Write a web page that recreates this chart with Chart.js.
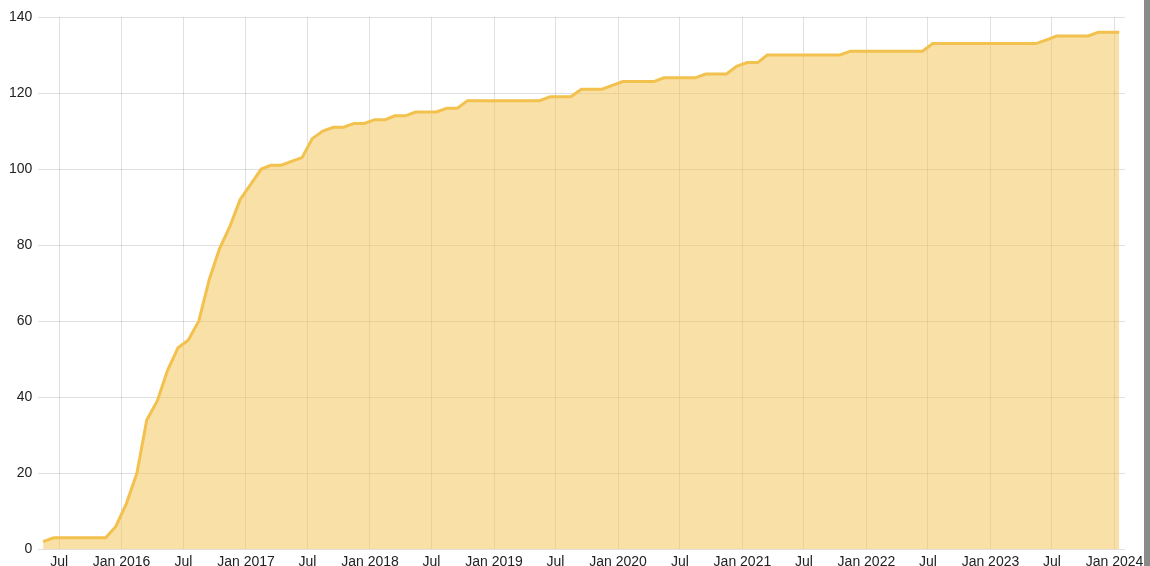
<!DOCTYPE html>
<html>
<head>
<meta charset="utf-8">
<script src="https://cdn.jsdelivr.net/npm/chart.js@4/dist/chart.umd.min.js"></script>
<style>
  html, body { margin:0; padding:0; overflow:hidden; background:#fff; width:1150px; height:566px; }
  #edge { position:absolute; left:1144px; top:0; width:6px; height:566px; background:#8a8a8a; }
</style>
</head>
<body>
<canvas id="c" width="1150" height="576"></canvas>
<div id="edge"></div>
<script>
// Monthly categories (one point per month, May 2015 – Jan 2024)
const firstMonth = '2015-05';
const lastMonth = '2024-01';

// Cumulative values per month
const values2015 = [2, 3, 3, 3, 3, 3, 3, 6];                                   // May–Dec
const values2016 = [12, 20, 34, 39, 47, 53, 55, 60, 71, 79, 85, 92];
const values2017 = [96, 100, 101, 101, 102, 103, 108, 110, 111, 111, 112, 112];
const values2018 = [113, 113, 114, 114, 115, 115, 115, 116, 116, 118, 118, 118];
const values2019 = [118, 118, 118, 118, 118, 119, 119, 119, 121, 121, 121, 122];
const values2020 = [123, 123, 123, 123, 124, 124, 124, 124, 125, 125, 125, 127];
const values2021 = [128, 128, 130, 130, 130, 130, 130, 130, 130, 130, 131, 131];
const values2022 = [131, 131, 131, 131, 131, 131, 133, 133, 133, 133, 133, 133];
const values2023 = [133, 133, 133, 133, 133, 134, 135, 135, 135, 135, 136, 136];
const values2024 = [136];                                                       // Jan

// X-axis tick positions and labels
const tickMonths = ['2015-07','2016-01','2016-07','2017-01','2017-07','2018-01','2018-07',
  '2019-01','2019-07','2020-01','2020-07','2021-01','2021-07','2022-01','2022-07',
  '2023-01','2023-07','2024-01'];
const tickLabels = ['Jul','Jan 2016','Jul','Jan 2017','Jul','Jan 2018','Jul',
  'Jan 2019','Jul','Jan 2020','Jul','Jan 2021','Jul','Jan 2022','Jul',
  'Jan 2023','Jul','Jan 2024'];
const yTicks = [0, 20, 40, 60, 80, 100, 120, 140];

// axis range (month starts)
const axisStart = '2015-05';
const axisEnd = '2024-02';

// ---- build ----
const values = [].concat(values2015, values2016, values2017, values2018, values2019,
  values2020, values2021, values2022, values2023, values2024);

function monthTime(ym, day) {
  const [y, m] = ym.split('-').map(Number);
  return Date.UTC(y, m - 1, day);
}
const months = [];
{
  let [y, m] = firstMonth.split('-').map(Number);
  const [ly, lm] = lastMonth.split('-').map(Number);
  while (y < ly || (y === ly && m <= lm)) {
    months.push(y + '-' + String(m).padStart(2, '0'));
    m++; if (m > 12) { m = 1; y++; }
  }
}
const points = months.map((ym, i) => ({ x: monthTime(ym, 15), y: values[i] }));
const tickValues = tickMonths.map(ym => monthTime(ym, 1));

Chart.defaults.font.family = "'Liberation Sans', Arial, Helvetica, sans-serif";
Chart.defaults.font.size = 14;
Chart.defaults.color = '#222';

new Chart(document.getElementById('c'), {
  type: 'line',
  data: {
    datasets: [{
      data: points,
      borderColor: '#F2C14E',
      backgroundColor: 'rgba(242,193,78,0.5)',
      borderWidth: 3,
      pointRadius: 0,
      pointHoverRadius: 0,
      fill: 'origin',
      tension: 0
    }]
  },
  options: {
    responsive: false,
    animation: false,
    layout: { padding: { left: 3, right: 25, top: 17, bottom: 0 } },
    plugins: { legend: { display: false }, tooltip: { enabled: false } },
    scales: {
      x: {
        type: 'linear',
        bounds: 'data',
        min: monthTime(axisStart, 1),
        max: monthTime(axisEnd, 1),
        afterBuildTicks: (scale) => { scale.ticks = tickValues.map(v => ({ value: v })); },
        ticks: {
          autoSkip: false,
          maxRotation: 0,
          padding: 5,
          callback: (v, i) => tickLabels[i]
        },
        grid: { color: 'rgba(0,0,0,0.12)', drawTicks: false },
        border: { display: false }
      },
      y: {
        min: 0,
        max: 140,
        afterBuildTicks: (scale) => { scale.ticks = yTicks.map(v => ({ value: v })); },
        ticks: { padding: 6 },
        grid: { color: 'rgba(0,0,0,0.12)', drawTicks: false },
        border: { display: false }
      }
    }
  }
});
</script>
</body>
</html>
